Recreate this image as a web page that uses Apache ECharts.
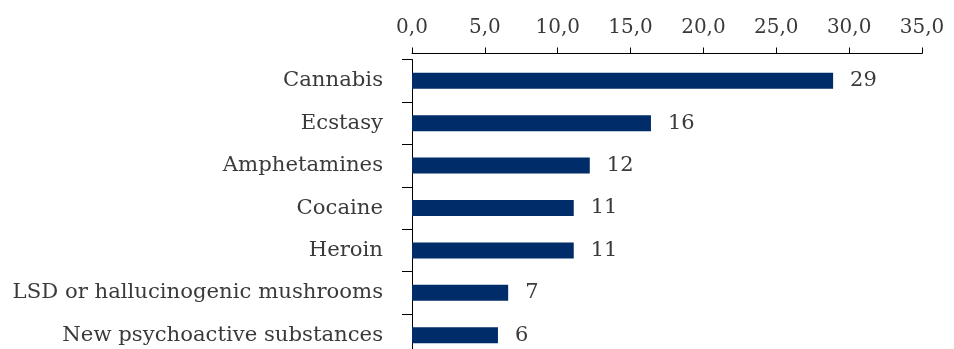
<!DOCTYPE html>
<html>
<head>
<meta charset="utf-8">
<script src="https://cdn.jsdelivr.net/npm/echarts@6/dist/echarts.min.js"></script>
<style>
  html, body { margin: 0; padding: 0; background: #ffffff; }
  #chart { width: 954px; height: 349px; }
</style>
</head>
<body>
<div id="chart"></div>
<script>
// Substances, top to bottom
const substances = [
  'Cannabis',
  'Ecstasy',
  'Amphetamines',
  'Cocaine',
  'Heroin',
  'LSD or hallucinogenic mushrooms',
  'New psychoactive substances'
];
// Share of respondents (%)
const shares = [28.9, 16.4, 12.2, 11.1, 11.1, 6.6, 5.9];
// Value axis range and step
const axisMin = 0;
const axisMax = 35;
const axisStep = 5;

const textFont = '"DejaVu Serif", serif';
const textColor = '#3a3a3a';

const chart = echarts.init(document.getElementById('chart'), null, { renderer: 'canvas' });
chart.setOption({
  animation: false,
  backgroundColor: '#ffffff',
  // plot area runs slightly past the bottom edge of the canvas
  grid: {
    left: 412, width: 510, top: 59.5, height: 297,
    containLabel: false,
    outerBoundsMode: 'none'
  },
  xAxis: {
    type: 'value',
    position: 'top',
    offset: 6,
    min: axisMin,
    max: axisMax,
    interval: axisStep,
    splitLine: { show: false },
    axisLine: { show: true, lineStyle: { color: '#000000', width: 1 } },
    axisTick: { show: true, length: 6, lineStyle: { color: '#000000', width: 1 } },
    axisLabel: {
      margin: 16,
      color: textColor,
      fontFamily: textFont,
      fontSize: 20,
      formatter: v => v.toFixed(1).replace('.', ',')
    }
  },
  yAxis: {
    type: 'category',
    inverse: true,
    data: substances,
    axisLine: { show: true, lineStyle: { color: '#000000', width: 1 } },
    axisTick: { show: true, length: 10, lineStyle: { color: '#000000', width: 1 } },
    axisLabel: {
      margin: 29,
      color: textColor,
      fontFamily: textFont,
      fontSize: 21.2
    }
  },
  series: [{
    type: 'bar',
    data: shares,
    barWidth: 16,
    itemStyle: { color: '#002D6A' },
    label: {
      show: true,
      position: 'right',
      distance: 17,
      color: textColor,
      fontFamily: textFont,
      fontSize: 21,
      formatter: p => String(Math.round(p.value))
    }
  }]
});
</script>
</body>
</html>
